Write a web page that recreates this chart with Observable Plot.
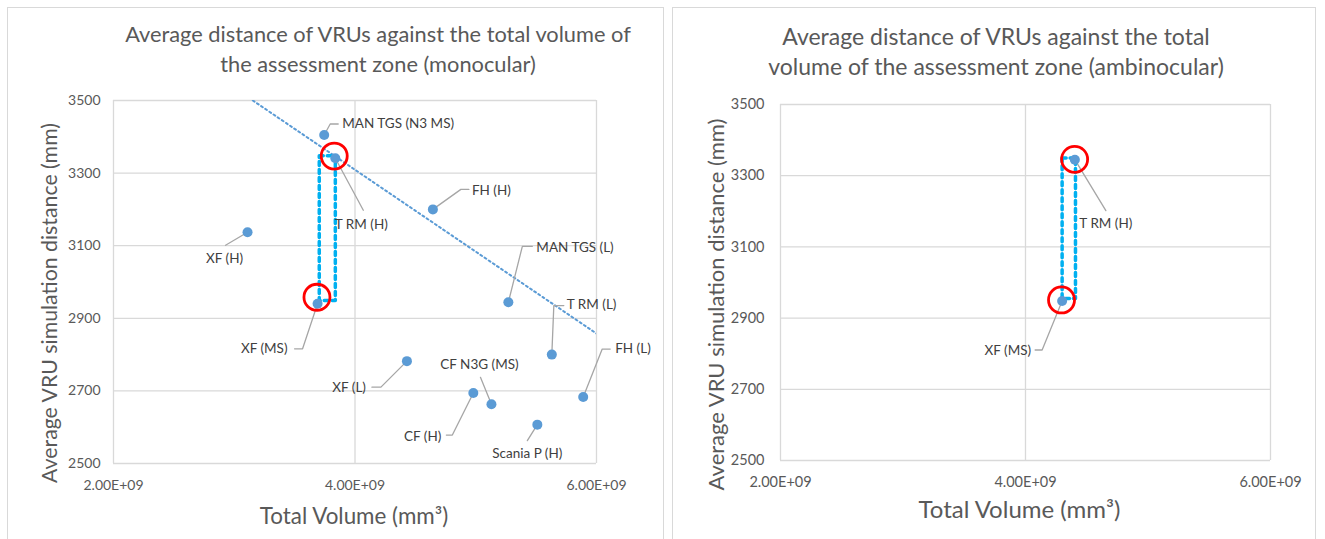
<!DOCTYPE html>
<html><head><meta charset="utf-8">
<script src="https://cdn.jsdelivr.net/npm/d3@7"></script>
<script src="https://cdn.jsdelivr.net/npm/@observablehq/plot@0.6"></script>
<style>
html,body{margin:0;padding:0;background:#fff}
body{width:1325px;height:539px;overflow:hidden;position:relative;font-family:Lato,sans-serif}
.panel{position:absolute;border:1px solid #d9d9d9;box-sizing:border-box;background:#fff}
.title{position:absolute;color:#595959;text-align:center;white-space:nowrap}
.chart{position:absolute}
</style></head><body>
<div class="panel" style="left:7px;top:7px;width:657px;height:560px"></div>
<div class="panel" style="left:672px;top:7px;width:644px;height:560px"></div>
<div class="title" id="t1" style="left:78px;width:600px;top:19px;font-size:21.8px;line-height:30px"></div>
<div class="title" id="t2" style="left:696px;width:600px;top:21px;font-size:23px;line-height:30px"></div>
<div class="chart" id="c1" style="left:8px;top:80px"></div>
<div class="chart" id="c2" style="left:673px;top:80px"></div>
<script>
// ---------- data ----------
const monoTitle = ["Average distance of VRUs against the total volume of", "the assessment zone (monocular)"];
const ambiTitle = ["Average distance of VRUs against the total", "volume of the assessment zone (ambinocular)"];
const yLabel = "Average VRU simulation distance (mm)";
const xLabel = "Total Volume (mm³)";
const xTicks = [2e9, 4e9, 6e9];
const yTicks = [2500, 2700, 2900, 3100, 3300, 3500];

const monoNames = ["MAN TGS (N3 MS)", "T RM (H)", "XF (H)", "XF (MS)", "XF (L)", "FH (H)", "MAN TGS (L)", "T RM (L)", "CF (H)", "CF N3G (MS)", "Scania P (H)", "FH (L)"];
const monoVolume = [3.745e9, 3.837e9, 3.11e9, 3.69e9, 4.43e9, 4.645e9, 5.27e9, 5.63e9, 4.98e9, 5.13e9, 5.51e9, 5.89e9];
const monoDistance = [3405, 3341, 3137, 2940, 2782, 3200, 2944, 2800, 2694, 2663, 2607, 2683];
const monoTrendVolume = [3.154e9, 6e9];
const monoTrendDistance = [3500, 2858];
const monoBracketVolume = [3.704e9, 3.837e9];
const monoBracketDistance = [2949, 3348];
const monoCircleVolume = [3.828e9, 3.685e9];
const monoCircleDistance = [3347, 2958];

const ambiNames = ["T RM (H)", "XF (MS)"];
const ambiVolume = [4.403e9, 4.299e9];
const ambiDistance = [3345, 2948];
const ambiBracketVolume = [4.299e9, 4.408e9];
const ambiBracketDistance = [2955, 3350];
const ambiCircleVolume = [4.401e9, 4.294e9];
const ambiCircleDistance = [3346, 2951];

// label layout (pixel offsets from each point): text offset, anchor, leader polyline
const monoLabelLayout = [
  {dx: 18, dy: -11, anchor: "start", leader: [[0,0],[6,-11],[14,-11]]},
  {dx: 26, dy: 66, anchor: "middle", leader: [[0,0],[28,52]]},
  {dx: -23, dy: 26, anchor: "middle", leader: [[0,0],[-22,13]]},
  {dx: -30, dy: 45, anchor: "end", leader: [[0,0],[-15,45],[-23,45]]},
  {dx: -41, dy: 27, anchor: "end", leader: [[0,0],[-26,26],[-35,26]]},
  {dx: 39, dy: -19, anchor: "start", leader: [[0,0],[28,-20],[36,-20]]},
  {dx: 28, dy: -55, anchor: "start", leader: [[0,0],[14,-56],[24,-56]]},
  {dx: 15, dy: -50, anchor: "start", leader: [[0,0],[2,-49],[12,-49]]},
  {dx: -32, dy: 44, anchor: "end", leader: [[0,0],[-21,42],[-27,42]]},
  {dx: -12, dy: -40, anchor: "middle", leader: [[0,0],[-11,-27]]},
  {dx: -10, dy: 29, anchor: "middle", leader: [[0,0],[-10,16]]},
  {dx: 32, dy: -48, anchor: "start", leader: [[0,0],[19,-48],[27,-48]]}
];
const ambiLabelLayout = [
  {dx: 31, dy: 64, anchor: "middle", leader: [[0,0],[31,51]]},
  {dx: -31, dy: 50, anchor: "end", leader: [[0,0],[-20,49],[-27,49]]}
];

// ---------- drawing ----------
const fmt = d => (d / 1e9).toFixed(2) + "E+09";
const GRID = "#d9d9d9", TXT = "#595959", DOT = "#5b9bd5", CYAN = "#00b0f0", RED = "#ff0000";

document.getElementById("t1").innerHTML = monoTitle.join("<br>");
document.getElementById("t2").innerHTML = ambiTitle.join("<br>");

function chart(cfg) {
  const {width, height, mL, mR, mT, mB, names, vol, dist, layout} = cfg;
  const pts = names.map((n, i) => ({name: n, x: vol[i], y: dist[i], ...layout[i]}));
  const kx = (xTicks[2] - xTicks[0]) / (width - mL - mR);
  const ky = (yTicks[5] - yTicks[0]) / (height - mT - mB);
  const leaders = pts.flatMap(p => p.leader.map(([ox, oy]) => ({name: p.name, x: p.x + ox * kx, y: p.y - oy * ky})));
  const bracket = [
    {x: cfg.bx[0], y: cfg.by[1]}, {x: cfg.bx[1], y: cfg.by[1]},
    {x: cfg.bx[1], y: cfg.by[0]}, {x: cfg.bx[0], y: cfg.by[0]}, {x: cfg.bx[0], y: cfg.by[1]}
  ];
  const circles = cfg.cx.map((x, i) => ({x, y: cfg.cy[i]}));
  const marks = [
    Plot.gridX(xTicks, {stroke: GRID, strokeOpacity: 1, strokeWidth: 1.3}),
    Plot.gridY(yTicks, {stroke: GRID, strokeOpacity: 1, strokeWidth: 1.3}),
    Plot.axisX(xTicks, {tickSize: 0, tickPadding: cfg.xPad, tickFormat: fmt, fontSize: cfg.tickFont, label: null}),
    Plot.axisY(yTicks, {tickSize: 0, tickPadding: cfg.yPad, tickFormat: d => String(d), fontSize: cfg.tickFont, label: null}),
  ];
  if (cfg.trendX) {
    marks.push(Plot.line(cfg.trendX.map((x, i) => ({x, y: cfg.trendY[i]})), {x: "x", y: "y", stroke: DOT, strokeWidth: 2, strokeDasharray: "2,3", clip: true}));
  }
  marks.push(
    Plot.line(leaders, {x: "x", y: "y", z: "name", stroke: "#a6a6a6", strokeWidth: 1.3}),
    Plot.line(bracket, {x: "x", y: "y", stroke: CYAN, strokeWidth: 3.5, strokeDasharray: "4,4"}),
    Plot.dot(pts, {x: "x", y: "y", r: 5, fill: DOT, stroke: "none"}),
    Plot.dot(circles, {x: "x", y: "y", r: 13, fill: "none", stroke: RED, strokeWidth: 2.8}),
    ...pts.map(p => Plot.text([p], {x: "x", y: "y", text: "name", dx: p.dx, dy: p.dy, textAnchor: p.anchor, fill: "#404040", fontSize: 13.5})),
    Plot.text([yLabel], {text: d => d, frameAnchor: "left", textAnchor: "middle", lineAnchor: "middle", rotate: -90, dx: cfg.ylx, dy: cfg.yly, fontSize: cfg.yFont, fill: TXT}),
    Plot.text([xLabel], {text: d => d, frameAnchor: "bottom", textAnchor: "middle", lineAnchor: "middle", dx: cfg.xlx, dy: cfg.xly, fontSize: cfg.xFont, fill: TXT})
  );
  return Plot.plot({
    width, height, marginLeft: mL, marginRight: mR, marginTop: mT, marginBottom: mB,
    style: {background: "transparent", color: TXT, fontFamily: "Lato, sans-serif", fontSize: "14px", overflow: "visible"},
    x: {domain: [xTicks[0], xTicks[2]]},
    y: {domain: [yTicks[0], yTicks[5]]},
    marks
  });
}

document.getElementById("c1").appendChild(chart({
  width: 654, height: 459, mL: 105, mR: 66, mT: 20, mB: 76,
  names: monoNames, vol: monoVolume, dist: monoDistance, layout: monoLabelLayout,
  trendX: monoTrendVolume, trendY: monoTrendDistance,
  bx: monoBracketVolume, by: monoBracketDistance, cx: monoCircleVolume, cy: monoCircleDistance,
  xPad: 17, yPad: 13, ylx: -63, yly: 21, xlx: -1, xly: 53, tickFont: 14, yFont: 21.3, xFont: 22.4
}));
document.getElementById("c2").appendChild(chart({
  width: 641, height: 459, mL: 107, mR: 44, mT: 24, mB: 79,
  names: ambiNames, vol: ambiVolume, dist: ambiDistance, layout: ambiLabelLayout,
  bx: ambiBracketVolume, by: ambiBracketDistance, cx: ambiCircleVolume, cy: ambiCircleDistance,
  xPad: 16, yPad: 16, ylx: -64, yly: 22, xlx: -6, xly: 50, tickFont: 14.5, yFont: 22, xFont: 24
}));
</script>
</body></html>
